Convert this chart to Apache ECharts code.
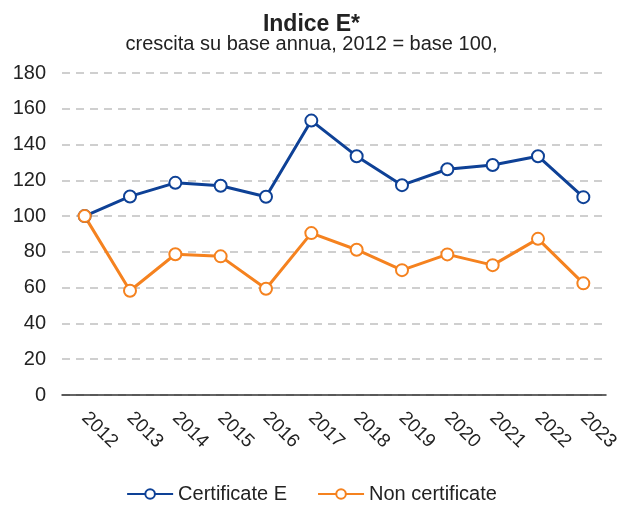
<!DOCTYPE html>
<html>
<head>
<meta charset="utf-8">
<script src="https://cdn.jsdelivr.net/npm/echarts@6/dist/echarts.min.js"></script>
<style>
  html, body { margin: 0; padding: 0; background: #fff; }
  #chart { width: 623px; height: 509px; }
</style>
</head>
<body>
<div id="chart"></div>
<script>
// dati
const years = ["2012", "2013", "2014", "2015", "2016", "2017", "2018", "2019", "2020", "2021", "2022", "2023"];
const certificate = [100, 111, 118.6, 117, 110.8, 153.4, 133.5, 117.3, 126.2, 128.6, 133.5, 110.6];
const nonCertificate = [100, 58.3, 78.7, 77.5, 59.4, 90.5, 81.2, 69.8, 78.6, 72.6, 87.3, 62.4];
const seriesNames = ["Certificate E", "Non certificate"];

const font = "Liberation Sans, Arial, sans-serif";
const blue = "#0e4196";
const orange = "#f5821f";

let myChart = echarts.init(document.getElementById("chart"));

function lineSeries(name, data, color) {
  return {
    name: name,
    type: "line",
    data: data,
    symbol: "circle",
    symbolSize: 12,
    lineStyle: { color: color, width: 3 },
    itemStyle: { color: "#fff", borderColor: color, borderWidth: 2 },
    emphasis: { disabled: true }
  };
}

myChart.setOption({
  animation: false,
  title: {
    text: "Indice E*",
    subtext: "crescita su base annua, 2012 = base 100,",
    left: "center",
    top: 8,
    itemGap: -2,
    textStyle: { fontFamily: font, fontSize: 23, fontWeight: "bold", color: "#222" },
    subtextStyle: { fontFamily: font, fontSize: 20, color: "#222" }
  },
  legend: {
    bottom: 0,
    left: "center",
    itemWidth: 46,
    itemHeight: 12,
    itemGap: 30,
    textStyle: { fontFamily: font, fontSize: 20, color: "#222" },
    data: seriesNames
  },
  grid: { left: 62, right: 17, top: 73, bottom: 114 },
  xAxis: {
    type: "category",
    data: years,
    axisLine: { lineStyle: { color: "#333", width: 1.5 } },
    axisTick: { show: false },
    axisLabel: {
      rotate: -45,
      margin: 20,
      fontFamily: font,
      fontSize: 19,
      color: "#222"
    }
  },
  yAxis: {
    type: "value",
    min: 0,
    max: 180,
    interval: 20,
    axisLine: { show: false },
    axisTick: { show: false },
    axisLabel: { fontFamily: font, fontSize: 20, color: "#222", margin: 16 },
    splitLine: { lineStyle: { color: "#c0c0c0", type: [8, 6], width: 1.5 } }
  },
  series: [
    lineSeries(seriesNames[0], certificate, blue),
    lineSeries(seriesNames[1], nonCertificate, orange)
  ]
});
</script>
</body>
</html>
